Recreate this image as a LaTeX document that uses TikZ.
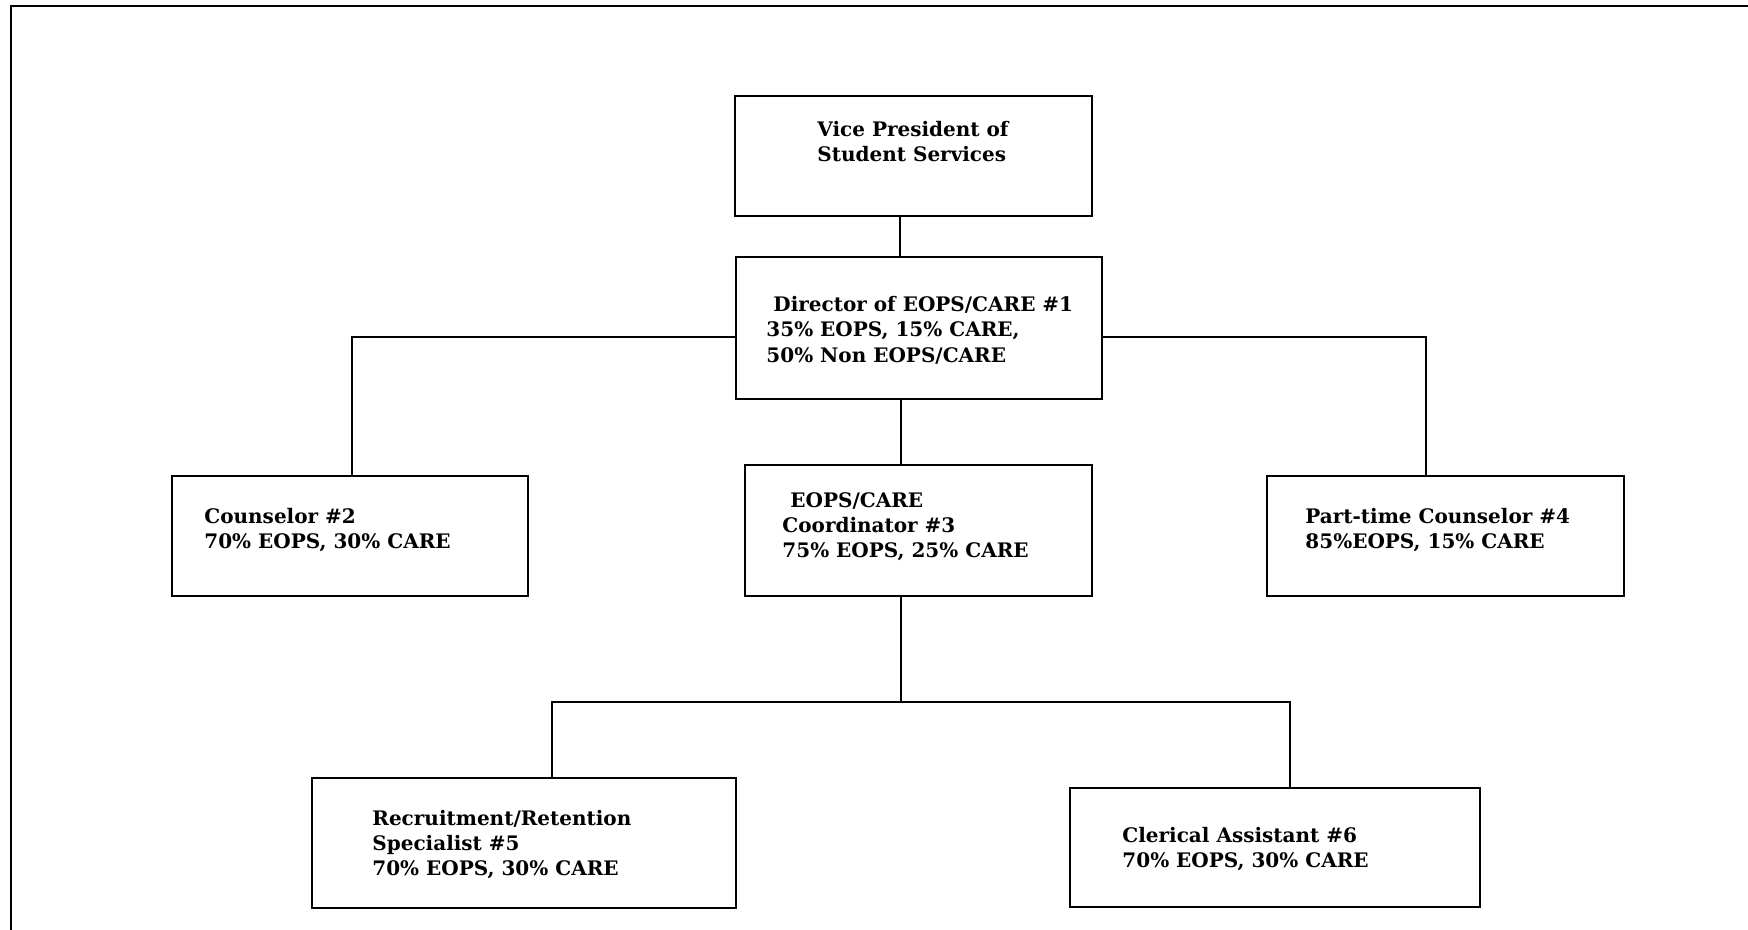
\documentclass[tikz,border=0pt]{standalone}
\usepackage{fontspec}
\setmainfont{DejaVu Serif}
\usetikzlibrary{fit}
\newcommand{\mlines}[1]{\begin{tabular}[t]{@{}l@{}}#1\end{tabular}}
\begin{document}
\begin{tikzpicture}[x=0.5pt,y=-0.5pt,
  box/.style={draw, line width=0.7pt, rectangle, inner sep=0pt},
  txt/.style={anchor=base west, inner sep=0pt, font=\fontsize{10pt}{12.5pt}\selectfont\bfseries},
  conn/.style={line width=0.7pt},
  frame/.style={line width=1.2pt}]
\useasboundingbox (0,0) rectangle (1748,930);
\draw[frame] (11,930) -- (11,6) -- (1748,6);
% boxes
\node[box, fit={(735,96) (1092,216)}] (vp) {};
\node[box, fit={(736,257) (1102,399)}] (dir) {};
\node[box, fit={(172,476) (528,596)}] (cou) {};
\node[box, fit={(1267,476) (1624,596)}] (pt) {};
\node[box, fit={(745,465) (1092,596)}] (coo) {};
\node[box, fit={(312,778) (736,908)}] (rec) {};
\node[box, fit={(1070,788) (1480,907)}] (cle) {};
% texts
\node[txt] (vpt) at (817,137) {\mlines{Vice President of\\Student Services}};
\node[txt] (dirt) at (766,312) {\mlines{\hspace{3.5pt}Director of EOPS/CARE \#1\\35\% EOPS, 15\% CARE,\\50\% Non EOPS/CARE}};
\node[txt] (cout) at (204,523) {\mlines{Counselor \#2\\70\% EOPS, 30\% CARE}};
\node[txt] (ptt) at (1305,523) {\mlines{Part-time Counselor \#4\\85\%EOPS, 15\% CARE}};
\node[txt] (coot) at (782,507) {\mlines{\hspace{4pt}EOPS/CARE\\Coordinator \#3\\75\% EOPS, 25\% CARE}};
\node[txt] (rect) at (372,825) {\mlines{Recruitment/Retention\\Specialist \#5\\70\% EOPS, 30\% CARE}};
\node[txt] (clet) at (1122,842) {\mlines{Clerical Assistant \#6\\70\% EOPS, 30\% CARE}};
% connector coordinates
\coordinate (j1) at (900,337);
\coordinate (hl) at (352,337);
\coordinate (hr) at (1426,337);
\coordinate (b) at (901,702);
\coordinate (bl) at (552,702);
\coordinate (br) at (1290,702);
% connectors
\draw[conn] (j1 |- vp.south) -- (j1 |- dir.north);
\draw[conn] (cou.north -| hl) -- (hl) -- (hl -| dir.west);
\draw[conn] (pt.north -| hr) -- (hr) -- (hr -| dir.east);
\draw[conn] (b |- dir.south) -- (b |- coo.north);
\draw[conn] (b |- coo.south) -- (b);
\draw[conn] (rec.north -| bl) -- (bl) -- (br) -- (cle.north -| br);
\end{tikzpicture}
\end{document}
